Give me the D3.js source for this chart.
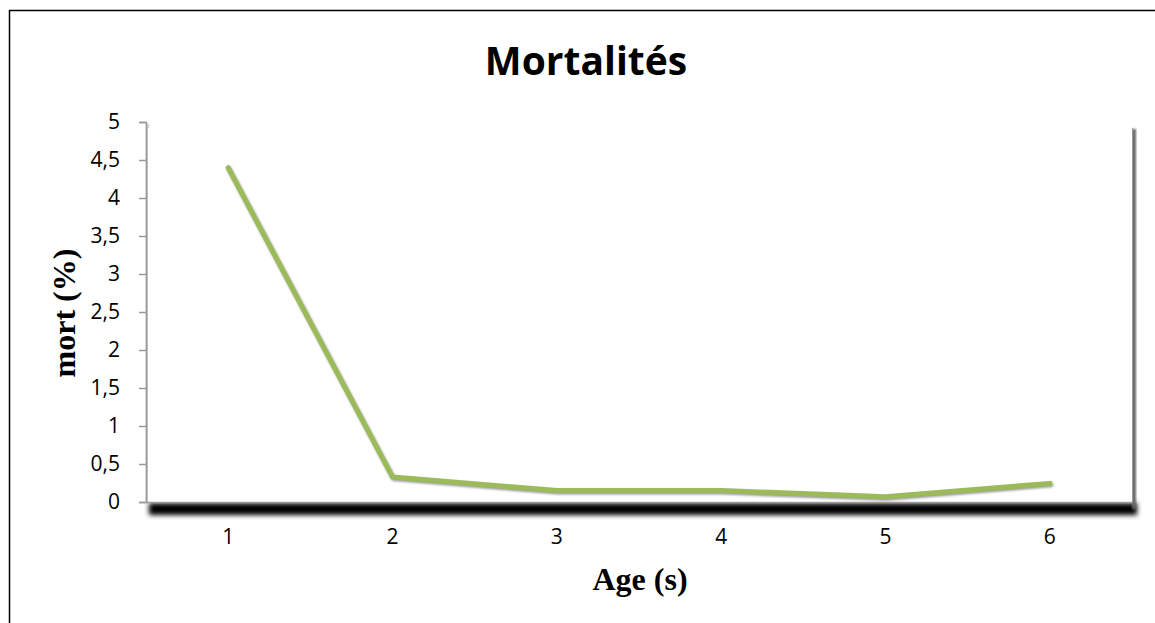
<!DOCTYPE html>
<html>
<head>
<meta charset="utf-8">
<script src="https://cdn.jsdelivr.net/npm/d3@7"></script>
<style>
  body { margin: 0; background: #fff; }
  svg { display: block; }
  .tick text { font-family: "Open Sans", "Liberation Sans", sans-serif; font-size: 21px; fill: #000; }
</style>
</head>
<body>
<svg id="canvas"></svg>
<script>
"use strict";

// chart data
const ages = ["1", "2", "3", "4", "5", "6"];
const mortality = [4.4, 0.33, 0.15, 0.15, 0.07, 0.245];
const yTicks = [0, 0.5, 1, 1.5, 2, 2.5, 3, 3.5, 4, 4.5, 5];

const width = 1155;
const height = 623;
const plotLeft = 146, plotRight = 1132, plotTop = 122, plotBottom = 502;

const canvas = d3.select('#canvas')
    .attr('width', width)
    .attr('height', height);

const defs = canvas.append('defs');
defs.append('filter').attr('id', 'blur').attr('x', '-20%').attr('y', '-80%')
    .attr('width', '140%').attr('height', '260%')
    .append('feGaussianBlur').attr('stdDeviation', 2.5);
defs.append('filter').attr('id', 'blurSmall')
    .append('feGaussianBlur').attr('stdDeviation', 1.2);

// outer frame
canvas.append('rect')
    .attr('x', 9.5).attr('y', 10.5)
    .attr('width', width + 20).attr('height', height + 20)
    .attr('fill', 'none').attr('stroke', '#000').attr('stroke-width', 1.5);

const xScale = d3.scaleBand()
    .domain(ages)
    .range([plotLeft, plotRight]);

const yScale = d3.scaleLinear()
    .domain([0, 5])
    .range([plotBottom, plotTop]);

// shadows of the plot area
canvas.append('rect')
    .attr('x', plotLeft + 3).attr('y', plotBottom + 1)
    .attr('width', plotRight - plotLeft + 2).attr('height', 12)
    .attr('fill', '#000')
    .attr('filter', 'url(#blur)');
canvas.append('rect')
    .attr('x', plotRight).attr('y', plotTop + 7)
    .attr('width', 4).attr('height', plotBottom - plotTop)
    .attr('fill', '#666')
    .attr('filter', 'url(#blurSmall)');
canvas.append('rect')
    .attr('x', plotLeft).attr('y', plotTop + 2)
    .attr('width', 3).attr('height', plotBottom - plotTop)
    .attr('fill', '#c4c4c4')
    .attr('filter', 'url(#blurSmall)');

// plot area
canvas.append('rect')
    .attr('x', plotLeft + 2).attr('y', plotTop + 6)
    .attr('width', plotRight - plotLeft - 2).attr('height', plotBottom - plotTop - 6)
    .attr('fill', '#fff');
canvas.append('line')
    .attr('x1', plotRight + 0.5).attr('x2', plotRight + 0.5)
    .attr('y1', plotTop + 6).attr('y2', plotBottom)
    .attr('stroke', '#999').attr('stroke-width', 1);

// y axis
const yAxis = d3.axisLeft(yScale)
    .tickValues(yTicks)
    .tickSize(7)
    .tickPadding(19)
    .tickFormat(d => String(d).replace('.', ','));

const gy = canvas.append('g')
    .attr('transform', 'translate(' + plotLeft + ',0)')
    .call(yAxis);
gy.select('.domain').attr('stroke', '#999').attr('stroke-width', 1.5);
gy.selectAll('.tick line').attr('stroke', '#999').attr('stroke-width', 1.5);

// x axis
const xAxis = d3.axisBottom(xScale)
    .tickSize(0)
    .tickPadding(27);

const gx = canvas.append('g')
    .attr('transform', 'translate(0,' + plotBottom + ')')
    .call(xAxis);
gx.select('.domain').attr('stroke', '#999').attr('stroke-width', 1.5);

// data line
const line = d3.line()
    .x((d, i) => xScale(ages[i]) + xScale.bandwidth() / 2)
    .y(d => yScale(d));

canvas.append('path')
    .datum(mortality)
    .attr('d', line)
    .attr('transform', 'translate(1,1.5)')
    .attr('fill', 'none')
    .attr('stroke', '#999')
    .attr('stroke-width', 5)
    .attr('stroke-linecap', 'round')
    .attr('stroke-linejoin', 'round')
    .attr('filter', 'url(#blurSmall)');

canvas.append('path')
    .datum(mortality)
    .attr('d', line)
    .attr('fill', 'none')
    .attr('stroke', '#9BBB59')
    .attr('stroke-width', 5)
    .attr('stroke-linecap', 'round')
    .attr('stroke-linejoin', 'round');

// titles
canvas.append('text')
    .attr('x', 586).attr('y', 75)
    .attr('text-anchor', 'middle')
    .attr('font-family', 'Open Sans, Liberation Sans, sans-serif')
    .attr('font-weight', 'bold')
    .attr('font-size', 39)
    .text('Mortalités');

canvas.append('text')
    .attr('x', 640).attr('y', 590)
    .attr('text-anchor', 'middle')
    .attr('font-family', 'Liberation Serif, serif')
    .attr('font-weight', 'bold')
    .attr('font-size', 32)
    .text('Age (s)');

canvas.append('text')
    .attr('transform', 'translate(75,313) rotate(-90)')
    .attr('text-anchor', 'middle')
    .attr('font-family', 'Liberation Serif, serif')
    .attr('font-weight', 'bold')
    .attr('font-size', 32)
    .text('mort (%)');
</script>
</body>
</html>
